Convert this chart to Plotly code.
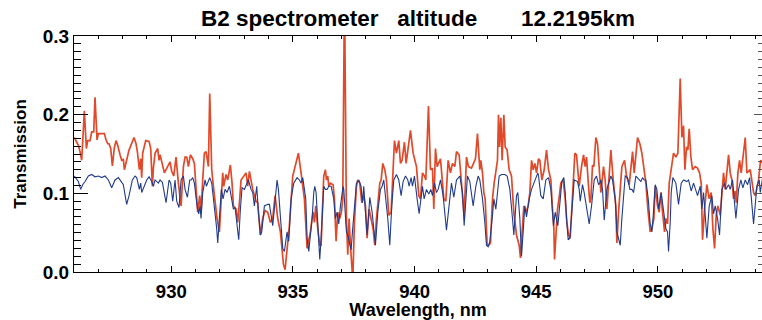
import plotly.graph_objects as go

# Red spectrum (wavelength nm, transmission)
red_wl = [926.015, 926.179, 926.248, 926.316, 926.426, 926.508, 926.563, 926.659, 926.727, 926.810,
          926.864, 926.947, 927.001, 927.248, 927.317, 927.385, 927.440, 927.509, 927.577, 927.659,
          927.728, 927.796, 927.892, 927.961, 928.029, 928.071, 928.262, 928.468, 928.550, 928.605,
          928.687, 928.742, 928.783, 928.824, 928.948, 929.085, 929.153, 929.222, 929.263, 929.332,
          929.441, 929.496, 929.537, 929.633, 929.715, 929.948, 930.017, 930.099, 930.195, 930.291,
          930.401, 930.497, 930.565, 930.634, 930.702,
          930.784, 930.880, 930.948, 931.017, 931.085, 931.167, 931.222, 931.291, 931.359, 931.428,
          931.496, 931.524, 931.579, 931.661, 931.743, 931.839, 931.880, 931.976, 932.045, 932.113,
          932.154, 932.250, 932.319, 932.428, 932.497, 932.552, 932.661, 932.730, 932.812, 932.867,
          933.073, 933.141, 933.210, 933.347, 933.484, 933.552, 933.662, 933.758, 933.854, 933.963,
          934.073, 934.169, 934.265, 934.375, 934.484, 934.539, 934.608, 934.676, 934.758, 934.854,
          934.991, 935.087, 935.224, 935.334, 935.471,
          935.581, 935.718, 935.787, 935.828, 935.883, 935.937, 936.020, 936.102, 936.157, 936.225,
          936.266, 936.335, 936.376, 936.431, 936.472, 936.540, 936.650, 936.705, 936.773, 936.842,
          936.924, 936.993, 937.048, 937.118, 937.171, 937.198, 937.253, 937.308, 937.363, 937.459,
          937.527, 937.610, 937.664, 937.746, 937.829, 937.911, 937.980, 938.048, 938.130, 938.213,
          938.295, 938.363, 938.432, 938.569, 938.624, 938.692, 938.775, 938.843, 938.939, 939.035,
          939.117, 939.172, 939.254, 939.350, 939.419, 939.487, 939.583, 939.652, 939.830, 939.940,
          940.077, 940.173, 940.241,
          940.324, 940.406, 940.461, 940.570, 940.653, 940.735, 940.790, 940.858, 940.927, 941.064,
          941.132, 941.201, 941.283, 941.379, 941.475, 941.557, 941.653, 941.722, 941.831, 941.886,
          942.037, 942.133, 942.215, 942.338, 942.503, 942.585, 942.681, 942.722, 942.791, 942.846,
          942.900, 942.983, 943.051, 943.120, 943.202, 943.270, 943.407, 943.449, 943.490, 943.545,
          943.599, 943.668, 943.723, 943.805, 943.887, 943.983, 944.079, 944.189, 944.298, 944.353,
          944.408, 944.490, 944.573, 944.668, 944.737, 944.806, 944.874, 944.943, 945.011,
          945.094, 945.148, 945.231, 945.327, 945.423, 945.505, 945.601, 945.669, 945.724, 945.752,
          945.806, 945.875, 945.943, 946.012, 946.108, 946.190, 946.259, 946.327, 946.396, 946.492,
          946.588, 946.656, 946.766, 946.862, 946.944, 947.012, 947.067, 947.150, 947.204, 947.245,
          947.314, 947.369, 947.451, 947.520, 947.588, 947.657, 947.766, 947.835, 947.903, 947.999,
          948.068, 948.164, 948.273, 948.315, 948.383, 948.520, 948.630, 948.712, 948.822, 948.959,
          949.027, 949.164, 949.260, 949.343, 949.438, 949.507, 949.589, 949.685, 949.754, 949.836,
          949.890, 949.986, 950.055, 950.123, 950.192, 950.274, 950.329, 950.397, 950.466, 950.575,
          950.644, 950.740, 950.822, 950.918, 950.987, 951.055, 951.110, 951.178, 951.233, 951.288,
          951.357, 951.425, 951.535, 951.631, 951.713, 951.781, 951.836, 951.919, 952.014, 952.110,
          952.193, 952.261, 952.330, 952.398, 952.467, 952.563, 952.631, 952.700, 952.768, 952.905,
          952.974, 953.042, 953.111, 953.180, 953.221, 953.289, 953.358, 953.426, 953.591, 953.659,
          953.796, 953.865, 953.933, 954.002, 954.139, 954.221, 954.317]
red_tr = [0.171, 0.161, 0.153, 0.142, 0.205, 0.157, 0.167, 0.167, 0.178, 0.178,
          0.222, 0.168, 0.176, 0.176, 0.168, 0.163, 0.163, 0.157, 0.135, 0.158,
          0.167, 0.161, 0.149, 0.142, 0.143, 0.130, 0.155, 0.171, 0.163, 0.153,
          0.130, 0.144, 0.120, 0.151, 0.167, 0.166, 0.157, 0.109, 0.132, 0.151,
          0.157, 0.142, 0.149, 0.134, 0.126, 0.140, 0.128, 0.122, 0.146, 0.113,
          0.084, 0.134, 0.146, 0.146, 0.134,
          0.149, 0.144, 0.138, 0.105, 0.076, 0.097, 0.076, 0.117, 0.151, 0.153,
          0.138, 0.134, 0.227, 0.130, 0.105, 0.072, 0.068, 0.051, 0.084, 0.126,
          0.109, 0.124, 0.117, 0.136, 0.113, 0.084, 0.080, 0.063, 0.093, 0.117,
          0.126, 0.109, 0.128, 0.105, 0.090, 0.088, 0.047, 0.068, 0.078, 0.076,
          0.063, 0.068, 0.097, 0.068, 0.051, 0.030, 0.010, 0.003, 0.030, 0.059,
          0.122, 0.134, 0.151, 0.126, 0.093,
          0.030, 0.051, 0.068, 0.076, 0.063, 0.084, 0.055, 0.034, 0.034, 0.093,
          0.122, 0.130, 0.117, 0.122, 0.109, 0.113, 0.111, 0.093, 0.039, 0.076,
          0.068, 0.076, 0.093, 0.360, 0.134, 0.068, 0.022, 0.068, 0.034, -0.010,
          0.063, 0.109, 0.117, 0.113, 0.088, 0.097, 0.084, 0.043, 0.080, 0.068,
          0.055, 0.034, 0.068, 0.113, 0.117, 0.138, 0.130, 0.117, 0.072, 0.076,
          0.122, 0.167, 0.151, 0.167, 0.138, 0.142, 0.165, 0.138, 0.180, 0.151,
          0.134, 0.097, 0.093,
          0.126, 0.122, 0.117, 0.211, 0.130, 0.132, 0.080, 0.157, 0.134, 0.144,
          0.117, 0.093, 0.090, 0.142, 0.126, 0.138, 0.134, 0.153, 0.149, 0.126,
          0.072, 0.146, 0.134, 0.132, 0.144, 0.176, 0.130, 0.142, 0.126, 0.101,
          0.093, 0.034, 0.034, 0.037, 0.093, 0.113, 0.142, 0.200, 0.159, 0.196,
          0.142, 0.200, 0.159, 0.155, 0.130, 0.122, 0.076, 0.047, 0.034, 0.018,
          0.051, 0.084, 0.076, 0.084, 0.101, 0.142, 0.130, 0.138, 0.126,
          0.144, 0.142, 0.117, 0.130, 0.155, 0.130, 0.117, 0.080, 0.055, 0.016,
          0.051, 0.080, 0.095, 0.113, 0.117, 0.093, 0.063, 0.047, 0.043, 0.101,
          0.151, 0.149, 0.109, 0.134, 0.149, 0.134, 0.146, 0.109, 0.088, 0.093,
          0.136, 0.134, 0.171, 0.163, 0.126, 0.101, 0.134, 0.117, 0.080, 0.132,
          0.155, 0.117, 0.084, 0.037, 0.076, 0.134, 0.142, 0.122, 0.111, 0.153,
          0.126, 0.171, 0.163, 0.151, 0.130, 0.113, 0.080, 0.051, 0.055, 0.068,
          0.109, 0.084, 0.076, 0.101, 0.076, 0.051, 0.068, 0.061, 0.113, 0.138,
          0.151, 0.146, 0.151, 0.246, 0.171, 0.186, 0.130, 0.159, 0.155, 0.182,
          0.146, 0.130, 0.134, 0.132, 0.126, 0.113, 0.041, 0.080, 0.111, 0.093,
          0.101, 0.055, 0.030, 0.072, 0.084, 0.072, 0.105, 0.126, 0.105, 0.149,
          0.126, 0.117, 0.093, 0.103, 0.088, 0.126, 0.142, 0.126, 0.171, 0.126,
          0.130, 0.117, 0.101, 0.097, 0.117, 0.142, 0.138]

# Blue spectrum (wavelength nm, transmission)
blue_wl = [926.015, 926.179, 926.275, 926.357, 926.453, 926.590, 926.727, 926.864, 927.001, 927.139,
           927.276, 927.413, 927.550, 927.687, 927.824, 927.961, 928.029, 928.125, 928.166, 928.262,
           928.399, 928.509, 928.578, 928.687, 928.742, 928.783, 928.893, 928.989, 929.085, 929.194,
           929.263, 929.332, 929.469, 929.537, 929.633, 929.715, 929.784, 929.907, 929.976, 930.058,
           930.154, 930.222, 930.318, 930.401, 930.497, 930.565, 930.661, 930.757,
           930.811, 930.880, 930.948, 931.058, 931.126, 931.181, 931.222, 931.291, 931.387, 931.442,
           931.524, 931.579, 931.661, 931.770, 931.866, 931.908, 931.990, 932.058, 932.127, 932.209,
           932.291, 932.387, 932.456, 932.552, 932.620, 932.702, 932.771, 932.840, 932.908, 933.004,
           933.168, 933.278, 933.347, 933.415, 933.511, 933.580, 933.662, 933.717, 933.826, 933.963,
           934.032, 934.169, 934.265, 934.347, 934.402, 934.484, 934.580, 934.649, 934.758, 934.827,
           934.923, 935.033, 935.170, 935.266, 935.334, 935.403, 935.526,
           935.581, 935.650, 935.718, 935.787, 935.855, 935.896, 935.951, 936.020, 936.074, 936.102,
           936.157, 936.212, 936.266, 936.335, 936.403, 936.472, 936.568, 936.678, 936.746, 936.815,
           936.883, 936.952, 937.061, 937.089, 937.198, 937.253, 937.335, 937.390, 937.445, 937.527,
           937.610, 937.705, 937.801, 937.856, 937.911, 937.980, 938.048, 938.089, 938.158, 938.254,
           938.322, 938.391, 938.487, 938.596, 938.665, 938.733, 938.898, 938.980, 939.062, 939.145,
           939.254, 939.350, 939.446, 939.528, 939.624, 939.720, 939.775, 939.857, 939.912, 939.994,
           940.104, 940.186, 940.241,
           940.324, 940.392, 940.488, 940.584, 940.666, 940.735, 940.817, 940.899, 940.968, 941.064,
           941.173, 941.310, 941.420, 941.516, 941.612, 941.722, 941.859, 941.968, 942.037, 942.174,
           942.270, 942.407, 942.517, 942.613, 942.681, 942.791, 942.887, 942.955, 943.024, 943.092,
           943.202, 943.257, 943.339, 943.476, 943.572, 943.709, 943.805, 943.915, 944.024, 944.079,
           944.189, 944.244, 944.326, 944.394, 944.463, 944.531, 944.600, 944.710, 944.806, 944.943,
           945.066,
           945.094, 945.190, 945.286, 945.395, 945.505, 945.601, 945.710, 945.779, 945.889, 945.971,
           946.053, 946.135, 946.190, 946.245, 946.313, 946.382, 946.464, 946.560, 946.697, 946.766,
           946.807, 946.903, 946.971, 947.040, 947.177, 947.273, 947.383, 947.478, 947.561, 947.616,
           947.657, 947.725, 947.794, 947.903, 948.068, 948.136, 948.246, 948.315, 948.452, 948.520,
           948.657, 948.753, 948.849, 948.931, 949.000, 949.096, 949.233, 949.301, 949.370, 949.438,
           949.507, 949.603, 949.685, 949.754, 949.809,
           949.890, 949.959, 950.027, 950.137, 950.233, 950.329, 950.397, 950.438, 950.507, 950.548,
           950.616, 950.740, 950.849, 950.959, 951.055, 951.192, 951.261, 951.370, 951.466, 951.562,
           951.631, 951.740, 951.809, 951.877, 951.946, 952.014, 952.110, 952.220, 952.289, 952.357,
           952.453, 952.535, 952.631, 952.741, 952.796, 952.905, 952.974, 953.070, 953.207, 953.317,
           953.412, 953.495, 953.591, 953.687, 953.769, 953.865, 953.933, 954.070, 954.166, 954.207,
           954.317]
blue_tr = [0.122, 0.115, 0.105, 0.111, 0.115, 0.122, 0.124, 0.121, 0.122, 0.120,
           0.122, 0.117, 0.107, 0.117, 0.120, 0.113, 0.111, 0.093, 0.086, 0.097,
           0.117, 0.122, 0.120, 0.105, 0.113, 0.101, 0.109, 0.117, 0.121, 0.115,
           0.109, 0.117, 0.113, 0.117, 0.114, 0.097, 0.088, 0.117, 0.113, 0.090,
           0.117, 0.090, 0.082, 0.117, 0.122, 0.105, 0.095, 0.117,
           0.117, 0.120, 0.113, 0.084, 0.074, 0.084, 0.068, 0.101, 0.117, 0.109,
           0.117, 0.120, 0.113, 0.084, 0.055, 0.037, 0.068, 0.105, 0.093, 0.105,
           0.101, 0.109, 0.097, 0.080, 0.082, 0.059, 0.041, 0.080, 0.107, 0.105,
           0.117, 0.105, 0.101, 0.084, 0.109, 0.076, 0.047, 0.051, 0.084, 0.086,
           0.086, 0.059, 0.093, 0.117, 0.105, 0.068, 0.030, 0.026, 0.051, 0.039,
           0.093, 0.113, 0.120, 0.117, 0.113, 0.120, 0.093,
           0.043, 0.026, 0.047, 0.068, 0.101, 0.109, 0.101, 0.063, 0.026, 0.016,
           0.043, 0.080, 0.109, 0.105, 0.105, 0.109, 0.109, 0.093, 0.068, 0.076,
           0.061, 0.084, 0.109, 0.105, 0.051, 0.047, 0.034, 0.028, 0.051, 0.084,
           0.113, 0.117, 0.109, 0.088, 0.109, 0.076, 0.047, 0.063, 0.095, 0.076,
           0.051, 0.034, 0.076, 0.105, 0.109, 0.117, 0.068, 0.034, 0.084, 0.117,
           0.124, 0.117, 0.097, 0.115, 0.122, 0.117, 0.109, 0.120, 0.109, 0.122,
           0.093, 0.074, 0.088,
           0.109, 0.093, 0.105, 0.099, 0.105, 0.097, 0.113, 0.101, 0.105, 0.117,
           0.097, 0.053, 0.088, 0.113, 0.095, 0.117, 0.122, 0.101, 0.059, 0.122,
           0.115, 0.084, 0.109, 0.122, 0.117, 0.093, 0.063, 0.034, 0.032, 0.039,
           0.072, 0.093, 0.080, 0.122, 0.124, 0.124, 0.122, 0.105, 0.068, 0.047,
           0.097, 0.101, 0.068, 0.020, 0.051, 0.084, 0.070, 0.093, 0.105, 0.117,
           0.126,
           0.122, 0.097, 0.093, 0.117, 0.120, 0.105, 0.059, 0.076, 0.059, 0.093,
           0.115, 0.120, 0.101, 0.068, 0.041, 0.043, 0.084, 0.117, 0.115, 0.105,
           0.090, 0.111, 0.101, 0.088, 0.061, 0.084, 0.117, 0.122, 0.111, 0.113,
           0.117, 0.105, 0.066, 0.105, 0.122, 0.117, 0.093, 0.051, 0.034, 0.068,
           0.122, 0.120, 0.105, 0.105, 0.101, 0.122, 0.117, 0.115, 0.120, 0.117,
           0.117, 0.093, 0.061, 0.051, 0.072,
           0.111, 0.105, 0.080, 0.101, 0.074, 0.055, 0.051, 0.026, 0.063, 0.101,
           0.120, 0.113, 0.086, 0.113, 0.117, 0.115, 0.117, 0.103, 0.113, 0.105,
           0.097, 0.109, 0.080, 0.101, 0.070, 0.043, 0.084, 0.097, 0.074, 0.084,
           0.068, 0.047, 0.105, 0.113, 0.105, 0.111, 0.105, 0.117, 0.068, 0.105,
           0.117, 0.107, 0.117, 0.111, 0.120, 0.084, 0.061, 0.109, 0.117, 0.101,
           0.122]

title_text = "B2 spectrometer\u00a0\u00a0\u00a0altitude\u00a0\u00a0\u00a0\u00a0\u00a0\u00a0\u00a012.2195km"
x_range = [926.0, 954.28]
y_range = [0.0, 0.3]

FONT = "Liberation Sans, Arial, sans-serif"

fig = go.Figure()
fig.add_trace(go.Scatter(x=red_wl, y=red_tr, mode="lines",
                         line=dict(color="#E04A2B", width=1.7), showlegend=False))
fig.add_trace(go.Scatter(x=blue_wl, y=blue_tr, mode="lines", yaxis="y2",
                         line=dict(color="#203B8A", width=1.1), showlegend=False))

fig.update_layout(
    width=762, height=320,
    margin=dict(l=74, r=0, t=36, b=43),
    paper_bgcolor="white", plot_bgcolor="white",
    font=dict(family=FONT, color="black"),
    title=dict(text=title_text, x=0.5, xref="paper", xanchor="center",
               y=1 - 18 / 320, yref="container", yanchor="middle",
               font=dict(size=22.5, weight="bold", family=FONT, color="black")),
    xaxis=dict(range=x_range, tick0=930, dtick=5, ticks="inside", ticklen=6,
               tickwidth=1, tickcolor="black",
               minor=dict(dtick=1, ticks="inside", ticklen=3, tickcolor="black"),
               showline=True, linecolor="black", linewidth=1, mirror="ticks",
               showgrid=False, zeroline=False,
               tickfont=dict(size=18.5, weight="bold", family=FONT),
               ticklabelstandoff=3,
               title=dict(text="Wavelength, nm", standoff=5,
                          font=dict(size=18, weight="bold", family=FONT))),
    yaxis=dict(range=y_range, tick0=0, dtick=0.1, tickformat=".1f", ticks="inside",
               ticklen=14, tickwidth=1, tickcolor="black",
               minor=dict(dtick=0.01, ticks="inside", ticklen=7, tickcolor="black"),
               showline=True, linecolor="black", linewidth=1, mirror=False,
               showgrid=False, zeroline=False,
               tickfont=dict(size=19, weight="bold", family=FONT),
               title=dict(text="Transmission", standoff=11,
                          font=dict(size=17, weight="bold", family=FONT))),
    yaxis2=dict(range=y_range, overlaying="y", side="right", tick0=0, dtick=0.1,
                ticks="inside", ticklen=8, tickcolor="#555", showticklabels=False,
                minor=dict(dtick=0.01, ticks="inside", ticklen=4, tickcolor="#555"),
                showline=False, showgrid=False, zeroline=False),
)

fig.write_html("out.html")
